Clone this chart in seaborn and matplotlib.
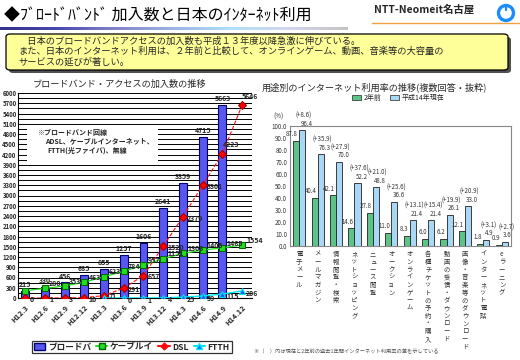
import numpy as np
import pandas as pd
import matplotlib
matplotlib.use("Agg")
import matplotlib.pyplot as plt
import seaborn as sns
from matplotlib.patches import Rectangle, FancyBboxPatch, Patch, Ellipse
from matplotlib.lines import Line2D
from matplotlib.colors import LinearSegmentedColormap

# left chart: broadband subscribers (thousand)
periods = ["H12.3", "H12.6", "H12.9", "H12.12", "H13.3", "H13.6",
           "H13.9", "H13.12", "H14.3", "H14.6", "H14.9", "H14.12"]
broadband = [215, 330, 456, 685, 855, 1257, 1606, 2641, 3359, 4715, 5663]  # no bar for H14.12
cable = [215, 280, 353, 463, 623, 784, 957, 1151, 1303, 1405, 1465, 1554]
dsl = [0, 1, 3, 10, 71, 291, 657, 1520, 2379, 3301, 4223, 5646]
ftth_periods = periods[4:]
ftth = [0, 0, 1, 4, 25, 59, 115, 206]

# right chart: internet usage by purpose (%)
uses = ["電子メール", "メールマガジン", "情報閲覧・検索", "ネットショッピング", "ニュース閲覧",
        "オークション", "オンラインゲーム", "各種チケットの予約・購入", "動画の受信・ダウンロード",
        "画像・音楽等のダウンロード", "インターネット電話", "eラーニング"]
before = [87.8, 40.4, 42.1, 14.6, 27.8, 11.0, 8.3, 6.0, 6.2, 12.1, 1.8, 0.9]
now = [96.4, 76.3, 70.0, 52.2, 48.8, 36.6, 21.4, 21.4, 26.1, 33.0, 4.9, 3.6]
term_names = ["2年前", "平成14年現在"]

sns.set_style("white")
plt.rcParams['font.family'] = ['Noto Sans CJK JP', 'DejaVu Sans']

W, H = 520, 360
def fx(px): return px / W
def fy(py): return 1 - py / H

fig = plt.figure(figsize=(5.2, 3.6), dpi=100)

# ---- header
fig.text(fx(4), fy(16), "◆ﾌﾞﾛｰﾄﾞﾊﾞﾝﾄﾞ 加入数と日本のｲﾝﾀｰﾈｯﾄ利用", fontsize=11.5,
         va='center', ha='left', color='black')
fig.text(fx(374), fy(10), "NTT-Neomeit名古屋", fontsize=7.5, fontweight='bold',
         va='center', ha='left')
fig.add_artist(Line2D([fx(372), fx(519)], [fy(23), fy(23)], color='#f0a040', lw=1))
fig.add_artist(Ellipse((fx(506), fy(13)), 15 / W, 15 / H, fill=False,
                       edgecolor='#1a8cff', lw=2.4))
fig.add_artist(Line2D([fx(506), fx(506)], [fy(5), fy(10)], color='#1a8cff', lw=1.6))

# gradient rule under title
axg = fig.add_axes([0, fy(30), fx(348), 3 / H])
cm = LinearSegmentedColormap.from_list("rule", ["#34348a", "#4848b4", "#8484c8", "#9cb4e4",
                                                "#b0e0f8", "#d4d4f0", "#c4c4c4"])
axg.imshow(np.linspace(0, 1, 256)[None, :], aspect='auto', cmap=cm)
axg.axis('off')

# yellow note box with shadow
fig.add_artist(FancyBboxPatch((fx(9), fy(73)), fx(502), 36 / H,
                              boxstyle="round,pad=0,rounding_size=0.008",
                              facecolor='#505050', edgecolor='none'))
fig.add_artist(FancyBboxPatch((fx(6), fy(70)), fx(502), 36 / H,
                              boxstyle="round,pad=0,rounding_size=0.008",
                              facecolor='#ffff99', edgecolor='black', lw=0.9))
fig.text(fx(18), fy(41), "　日本のブロードバンドアクセスの加入数も平成１３年度以降急激に伸びている。",
         fontsize=6.7, va='center')
fig.text(fx(18), fy(51.5), "また、日本のインターネット利用は、２年前と比較して、オンラインゲーム、動画、音楽等の大容量の",
         fontsize=6.7, va='center')
fig.text(fx(18), fy(62), "サービスの延びが著しい。", fontsize=6.7, va='center')

# ---- left chart
ax1 = fig.add_axes([fx(18), fy(298), 234 / W, 205 / H])
sns.barplot(x=periods[:len(broadband)], y=broadband, order=periods, color='#5858f0',
            saturation=1, width=0.4, edgecolor='#000070', linewidth=0.8, ax=ax1, zorder=2)
idx = np.arange(len(periods))
sns.lineplot(x=idx, y=cable, color='#22e022', lw=0.9, marker='s', markersize=5,
             markerfacecolor='#22dd22', markeredgecolor='#006600', ax=ax1, legend=False, zorder=3)
sns.lineplot(x=idx, y=dsl, color='#ff1010', lw=0.8, ls='--', marker='D', markersize=4,
             markerfacecolor='#ff0000', markeredgecolor='#a00000', ax=ax1, legend=False, zorder=3)
sns.lineplot(x=idx[4:], y=ftth, color='#00e8f0', lw=1.0, marker='^', markersize=5,
             markerfacecolor='#1060ff', markeredgecolor='#00e8f0', ax=ax1, legend=False, zorder=3)

ax1.set_ylim(0, 6000)
ax1.set_xlim(-0.36, 11.5)
yt = np.arange(0, 6001, 150)
ax1.set_yticks(yt, [str(v) if v % 300 == 0 else '' for v in yt])
ax1.tick_params(axis='y', labelsize=4.3, length=0, pad=1)
for t in ax1.get_yticklabels():
    t.set_fontweight('bold')
ax1.set_xticks(idx, periods, rotation=45, ha='right', rotation_mode='anchor',
               fontsize=5.3, fontweight='bold')
ax1.tick_params(axis='x', length=0, pad=4)
ax1.set_xlabel('')
ax1.set_ylabel('')
ax1.set_axisbelow(True)
ax1.yaxis.grid(True, color='black', lw=0.7)
for s in ['top', 'right']:
    ax1.spines[s].set_visible(False)
for s in ['left', 'bottom']:
    ax1.spines[s].set_color('black')
    ax1.spines[s].set_linewidth(0.8)

lab = dict(fontsize=5.0, fontweight='bold', zorder=5)
for i, v in enumerate(broadband):
    ax1.annotate(str(v), (i, v), xytext=(0, 2), textcoords='offset points',
                 ha='center', va='bottom', **lab)
for i, v in enumerate(dsl):
    if i >= 10:
        ax1.annotate(str(v), (i, v), xytext=(0, 4), textcoords='offset points',
                     ha='left', va='bottom', **lab)
    else:
        ax1.annotate(str(v), (i, v), xytext=(3, -1), textcoords='offset points',
                     ha='left', va='center', **lab)
for i, v in enumerate(cable[1:], start=1):
    ax1.annotate(str(v), (i, v), xytext=(3, 1), textcoords='offset points',
                 ha='left', va='bottom', **lab)
for i, v in zip(idx[5:], ftth[1:]):
    ax1.annotate(str(v), (i, v), xytext=(3, -1.5), textcoords='offset points',
                 ha='left', va='center', **lab)

# note box inside chart
ax1.add_patch(Rectangle((9 / 234, (298 - 161) / 205), 131 / 234, 36 / 205,
                        transform=ax1.transAxes, facecolor='white', edgecolor='none', zorder=1))
fig.text(fx(37), fy(132), "※ブロードバンド回線", fontsize=5, fontweight='bold', va='center')
fig.text(fx(45), fy(141), "ADSL、ケーブルインターネット、", fontsize=5, fontweight='bold', va='center')
fig.text(fx(47), fy(150), "FTTH(光ファイバ)、無線", fontsize=5, fontweight='bold', va='center')

fig.text(fx(120), fy(84), "ブロードバンド・アクセスの加入数の推移", fontsize=6.6, ha='center', va='center')

h1 = [Patch(facecolor='#5858f0', edgecolor='#000070'),
      Line2D([], [], color='#22e022', marker='s', markersize=4, markerfacecolor='#22dd22',
             markeredgecolor='#006600'),
      Line2D([], [], color='#ff1010', marker='D', markersize=3.5, markerfacecolor='#ff0000'),
      Line2D([], [], color='#00e8f0', marker='^', markersize=4, markerfacecolor='#1060ff',
             markeredgecolor='#00e8f0')]
leg1 = fig.legend(h1, ["ブロードバ", "ケーブルイ", "DSL", "FTTH"], loc='center',
                  bbox_to_anchor=(fx(132), fy(347)), ncol=4, frameon=True,
                  fancybox=False, handlelength=1.3, handletextpad=0.3, columnspacing=0.6,
                  borderpad=0.2, prop={'weight': 'bold', 'size': 6.2})
leg1.get_frame().set_edgecolor('black')
leg1.get_frame().set_linewidth(0.9)

# ---- right chart
ax2 = fig.add_axes([fx(290), fy(246), 221 / W, 120 / H])
df_use = pd.DataFrame({'用途': uses * 2,
                       '時期': [term_names[0]] * len(uses) + [term_names[1]] * len(uses),
                       '利用率': before + now})
sns.barplot(data=df_use, x='用途', y='利用率', hue='時期', hue_order=term_names,
            palette=['#5cc486', '#a8d8f6'], saturation=1, width=0.66,
            edgecolor='#222222', linewidth=0.6, ax=ax2, legend=False)
ax2.set_ylim(0, 100)
ax2.set_xlim(-0.5, len(uses) - 0.5)
ax2.set_yticks(np.arange(0, 101, 10), [f"{v:.1f}" for v in np.arange(0, 101, 10)])
ax2.tick_params(axis='y', labelsize=4.5, labelcolor='#333333', length=0, pad=2)
ax2.set_xticks(np.arange(len(uses)), ["\n".join(u) for u in uses])
ax2.tick_params(axis='x', labelsize=4.6, labelcolor='#333333', length=0, pad=3)
for t in ax2.get_xticklabels():
    t.set_linespacing(0.95)
    t.set_va('top')
ax2.set_xticks(np.arange(-0.5, len(uses), 1), minor=True)
ax2.tick_params(axis='x', which='minor', direction='in', length=3, color='#999999', width=1.2)
ax2.set_xlabel('')
ax2.set_ylabel('')
for s in ax2.spines.values():
    s.set_color('#888888')
    s.set_linewidth(0.8)

vl = dict(fontsize=4.4, color='#333333', va='bottom')
for i, (b, n) in enumerate(zip(before, now)):
    ax2.annotate(f"{b:.1f}", (i - 0.165, b), xytext=(1.3, 2), textcoords='offset points',
                 ha='right', **vl)
    ax2.annotate(f"{n:.1f}", (i + 0.165, n), xytext=(-1.3, 2), textcoords='offset points',
                 ha='left', **vl)
    ax2.annotate(f"(+{n - b:.1f})", (i + 0.165, n), xytext=(1.2, 7.5), textcoords='offset points',
                 ha='center', **vl)

fig.text(fx(278), fy(117), "(%)", fontsize=4.5, color='#333333', ha='center', va='center')
fig.text(fx(262), fy(87), "用途別のインターネット利用率の推移(複数回答・抜粋)", fontsize=6.6,
         ha='left', va='center')
h2 = [Patch(facecolor='#5cc486', edgecolor='#222222', lw=0.5),
      Patch(facecolor='#a8d8f6', edgecolor='#222222', lw=0.5)]
fig.legend(h2, term_names, loc='center', bbox_to_anchor=(fx(398), fy(98)), ncol=2,
           fontsize=5, frameon=False, handlelength=1.4, handleheight=0.8,
           handletextpad=0.3, columnspacing=1.2)
fig.text(fx(254), fy(351), "※（　）内は現在と2年前の過去1年間インターネット利用率の差を示している",
         fontsize=3.8, color='#555555', ha='left', va='center')

fig.savefig("out.png", dpi=100)
